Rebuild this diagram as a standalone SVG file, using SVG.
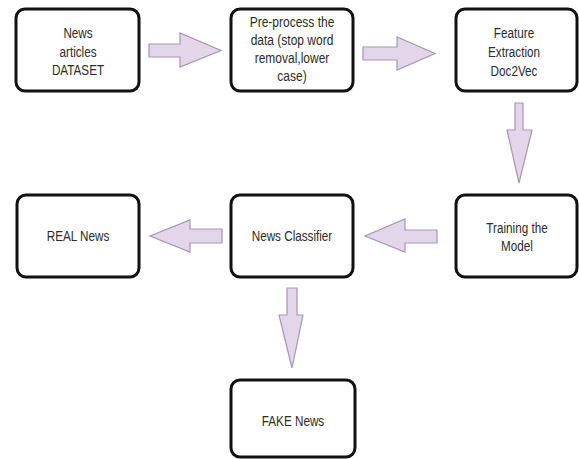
<svg xmlns="http://www.w3.org/2000/svg" width="579" height="459" viewBox="0 0 579 459">
<style>
.box{fill:#fff;stroke:#111;stroke-width:3}
.arr{fill:#e4d6ea;stroke:#a796b3;stroke-width:1.2;stroke-linejoin:miter}
.t{font-family:"Liberation Sans",Arial,sans-serif;font-size:15px;fill:#2b2b2b;text-anchor:middle}
</style>
<rect width="579" height="459" fill="#fff"/>
<g id="connectors">
<path class="arr" d="M149,44 L180,44 L180,33 L221,50.5 L180,67 L180,57 L149,57 Z"/>
<path class="arr" d="M363,47 L397,47 L397,37 L435,53.5 L397,70 L397,60 L363,60 Z"/>
<path class="arr" d="M515,103 L523,103 L523,130 L532,130 L519,183 L507,130 L515,130 Z"/>
<path class="arr" d="M222,229 L190,229 L190,220 L150,236 L190,252 L190,243 L222,243 Z"/>
<path class="arr" d="M437,230 L405,230 L405,219 L365,236 L405,252 L405,243 L437,243 Z"/>
<path class="arr" d="M287,288 L297,288 L297,315 L303,315 L292,368 L279,315 L287,315 Z"/>
</g>
<g id="n1">
<rect class="box" x="16" y="9" width="123" height="82" rx="9"/>
<g transform="translate(78,0) scale(0.78,1)"><text class="t" x="0" y="38">News</text><text class="t" x="0" y="57">articles</text><text class="t" x="0" y="75">DATASET</text></g>
</g>
<g id="n2">
<rect class="box" x="231" y="9" width="122" height="82" rx="9"/>
<g transform="translate(292,0) scale(0.8,1)"><text class="t" x="0" y="27">Pre-process the</text><text class="t" x="0" y="45">data (stop word</text><text class="t" x="0" y="63">removal,lower</text><text class="t" x="0" y="81">case)</text></g>
</g>
<g id="n3">
<rect class="box" x="456" y="9" width="121" height="82" rx="9"/>
<g transform="translate(514,0) scale(0.78,1)"><text class="t" x="0" y="38">Feature</text><text class="t" x="0" y="57">Extraction</text><text class="t" x="0" y="76">Doc2Vec</text></g>
</g>
<g id="n4">
<rect class="box" x="456" y="195" width="121" height="82" rx="9"/>
<g transform="translate(517,0) scale(0.78,1)"><text class="t" x="0" y="233">Training the</text><text class="t" x="0" y="251">Model</text></g>
</g>
<g id="n5">
<rect class="box" x="231" y="195" width="122" height="82" rx="9"/>
<g transform="translate(292,0) scale(0.78,1)"><text class="t" x="0" y="241">News Classifier</text></g>
</g>
<g id="n6">
<rect class="box" x="17" y="195" width="122" height="82" rx="9"/>
<g transform="translate(78,0) scale(0.78,1)"><text class="t" x="0" y="241">REAL News</text></g>
</g>
<g id="n7">
<rect class="box" x="231" y="380" width="124" height="77" rx="9"/>
<g transform="translate(293,0) scale(0.78,1)"><text class="t" x="0" y="426">FAKE News</text></g>
</g>
</svg>
